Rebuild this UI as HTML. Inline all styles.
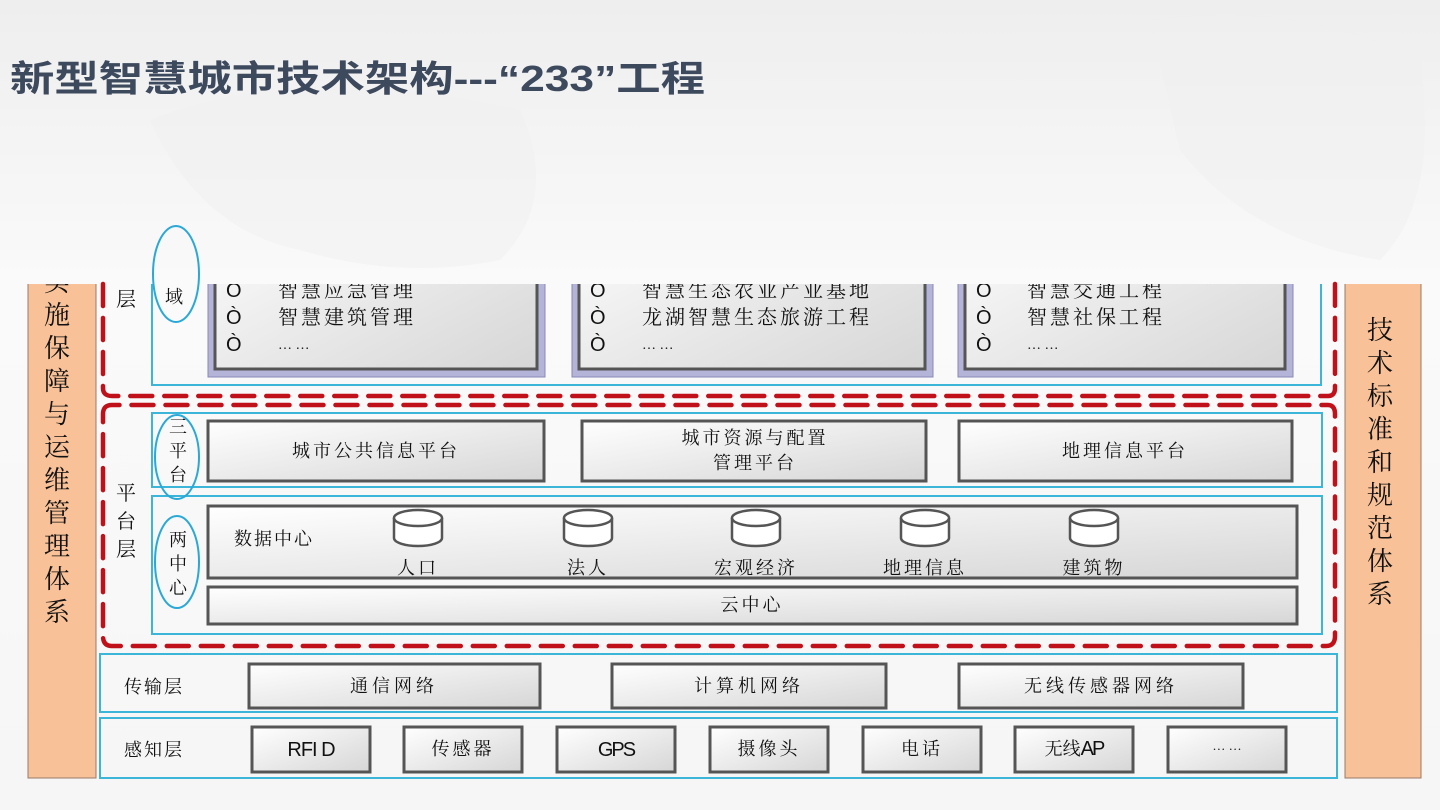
<!DOCTYPE html>
<html><head><meta charset="utf-8"><style>
html,body{margin:0;padding:0;width:1440px;height:810px;overflow:hidden;background:#fff}
svg{display:block}
.k{font-family:"Liberation Serif","Noto Serif CJK SC",serif;fill:#111}
</style></head><body>
<svg width="1440" height="810" viewBox="0 0 1440 810" xmlns="http://www.w3.org/2000/svg">
<defs>
<linearGradient id="bg" x1="0" y1="0" x2="0" y2="1"><stop offset="0" stop-color="#eeeeee"/><stop offset="0.35" stop-color="#fafafa"/><stop offset="1" stop-color="#f6f6f6"/></linearGradient>
<linearGradient id="bx" x1="0" y1="0" x2="1" y2="1"><stop offset="0" stop-color="#ffffff"/><stop offset="1" stop-color="#d6d6d6"/></linearGradient>
<clipPath id="cp"><rect x="0" y="284" width="1440" height="526"/></clipPath>
</defs>
<rect width="1440" height="810" fill="url(#bg)"/>
<path d="M150 120 Q300 60 520 110 Q560 200 500 260 Q400 280 300 250 Q200 230 150 120Z" fill="#f0f0f0" opacity="0.5"/>
<path d="M1150 20 Q1300 0 1420 60 Q1440 200 1380 260 Q1250 240 1180 150Z" fill="#f0f0f0" opacity="0.5"/>
<text x="10" y="91" font-family="Liberation Sans,'Noto Sans CJK SC',sans-serif" font-weight="bold" font-size="36" fill="#3d4a5e" textLength="695" lengthAdjust="spacingAndGlyphs">新型智慧城市技术架构---“233”工程</text>

<g clip-path="url(#cp)">
<rect x="28" y="200" width="68" height="578" fill="#f8c197" stroke="#9a7a6a" stroke-width="1"/>
<rect x="1345" y="200" width="76" height="578" fill="#f8c197" stroke="#9a7a6a" stroke-width="1"/>
<g class="k" font-size="26" text-anchor="middle">
<text x="57" y="291">实</text><text x="57" y="324">施</text><text x="57" y="357">保</text><text x="57" y="390">障</text><text x="57" y="423">与</text><text x="57" y="456">运</text><text x="57" y="489">维</text><text x="57" y="522">管</text><text x="57" y="555">理</text><text x="57" y="588">体</text><text x="57" y="621">系</text>
<text x="1380" y="339">技</text><text x="1380" y="372">术</text><text x="1380" y="405">标</text><text x="1380" y="438">准</text><text x="1380" y="471">和</text><text x="1380" y="504">规</text><text x="1380" y="537">范</text><text x="1380" y="570">体</text><text x="1380" y="603">系</text>
</g>
<rect x="152" y="200" width="1169" height="185" fill="none" stroke="#3cb6d8" stroke-width="2"/>
<text class="k" x="116" y="306" font-size="20">层</text>
<g>
<rect x="208" y="200" width="337" height="177" fill="#b4b4d8" stroke="#8888b8"/>
<rect x="215" y="200" width="322" height="169" fill="url(#bx)" stroke="#555" stroke-width="3"/>
<rect x="572" y="200" width="361" height="177" fill="#b4b4d8" stroke="#8888b8"/>
<rect x="579" y="200" width="346" height="169" fill="url(#bx)" stroke="#555" stroke-width="3"/>
<rect x="958" y="200" width="335" height="177" fill="#b4b4d8" stroke="#8888b8"/>
<rect x="965" y="200" width="320" height="169" fill="url(#bx)" stroke="#555" stroke-width="3"/>
</g>
<g class="k" font-size="20">
<text x="226" y="297" font-family="Liberation Sans,sans-serif">O</text><text x="226" y="324" font-family="Liberation Sans,sans-serif">Ò</text><text x="226" y="351" font-family="Liberation Sans,sans-serif">Ò</text>
<text x="278" y="297" letter-spacing="3">智慧应急管理</text><text x="278" y="324" letter-spacing="3">智慧建筑管理</text><text x="278" y="349" font-size="14">… …</text>
<text x="590" y="297" font-family="Liberation Sans,sans-serif">O</text><text x="590" y="324" font-family="Liberation Sans,sans-serif">Ò</text><text x="590" y="351" font-family="Liberation Sans,sans-serif">Ò</text>
<text x="642" y="297" letter-spacing="3">智慧生态农业产业基地</text><text x="642" y="324" letter-spacing="3">龙湖智慧生态旅游工程</text><text x="642" y="349" font-size="14">… …</text>
<text x="976" y="297" font-family="Liberation Sans,sans-serif">O</text><text x="976" y="324" font-family="Liberation Sans,sans-serif">Ò</text><text x="976" y="351" font-family="Liberation Sans,sans-serif">Ò</text>
<text x="1027" y="297" letter-spacing="3">智慧交通工程</text><text x="1027" y="324" letter-spacing="3">智慧社保工程</text><text x="1027" y="349" font-size="14">… …</text>
</g>
</g>
<ellipse cx="176" cy="274" rx="23" ry="48" fill="none" stroke="#2aa8d8" stroke-width="2"/>
<text class="k" x="165" y="303" font-size="18">域</text>

<g fill="none" stroke="#c0101a" stroke-width="4.5" stroke-dasharray="22 12" stroke-linecap="round">
<path d="M103 284 V388 Q103 396 112 396 H1328 Q1335 396 1335 388 V284"/>
<path d="M103 414 Q103 405 112 405 H1328 Q1335 405 1335 414 V636 Q1335 646 1326 646 H112 Q103 646 103 636 Z"/>
</g>

<text class="k" x="116" y="500" font-size="20">平</text><text class="k" x="116" y="528" font-size="20">台</text><text class="k" x="116" y="556" font-size="20">层</text>
<rect x="152" y="413" width="1170" height="74" fill="none" stroke="#3cb6d8" stroke-width="2"/>
<rect x="152" y="496" width="1170" height="138" fill="none" stroke="#3cb6d8" stroke-width="2"/>
<rect x="208" y="421" width="336" height="60" fill="url(#bx)" stroke="#555" stroke-width="3"/>
<rect x="582" y="421" width="344" height="60" fill="url(#bx)" stroke="#555" stroke-width="3"/>
<rect x="959" y="421" width="333" height="60" fill="url(#bx)" stroke="#555" stroke-width="3"/>
<rect x="208" y="506" width="1089" height="72" fill="url(#bx)" stroke="#555" stroke-width="3"/>
<rect x="208" y="587" width="1089" height="37" fill="url(#bx)" stroke="#555" stroke-width="3"/>
<ellipse cx="177" cy="457" rx="22" ry="42" fill="none" stroke="#2aa8d8" stroke-width="2"/>
<ellipse cx="177" cy="562" rx="22" ry="46" fill="none" stroke="#2aa8d8" stroke-width="2"/>
<g class="k" font-size="18" text-anchor="middle">
<text x="178" y="433">三</text><text x="178" y="457">平</text><text x="178" y="481">台</text>
<text x="178" y="546">两</text><text x="178" y="570">中</text><text x="178" y="594">心</text>
<text x="376" y="457" letter-spacing="3">城市公共信息平台</text>
<text x="755" y="444" letter-spacing="3">城市资源与配置</text><text x="755" y="469" letter-spacing="3">管理平台</text>
<text x="1125" y="457" letter-spacing="3">地理信息平台</text>
<text x="274" y="545" letter-spacing="2">数据中心</text>
<text x="418" y="574" letter-spacing="3">人口</text><text x="588" y="574" letter-spacing="3">法人</text><text x="756" y="574" letter-spacing="3">宏观经济</text><text x="925" y="574" letter-spacing="3">地理信息</text><text x="1094" y="574" letter-spacing="3">建筑物</text>
<text x="752" y="611" letter-spacing="3">云中心</text>
</g>
<g fill="#fff" stroke="#555" stroke-width="2.5">
<g transform="translate(418,0)"><path d="M-24 518 V538 A24 8 0 0 0 24 538 V518"/><ellipse cx="0" cy="518" rx="24" ry="8"/></g>
<g transform="translate(588,0)"><path d="M-24 518 V538 A24 8 0 0 0 24 538 V518"/><ellipse cx="0" cy="518" rx="24" ry="8"/></g>
<g transform="translate(756,0)"><path d="M-24 518 V538 A24 8 0 0 0 24 538 V518"/><ellipse cx="0" cy="518" rx="24" ry="8"/></g>
<g transform="translate(925,0)"><path d="M-24 518 V538 A24 8 0 0 0 24 538 V518"/><ellipse cx="0" cy="518" rx="24" ry="8"/></g>
<g transform="translate(1094,0)"><path d="M-24 518 V538 A24 8 0 0 0 24 538 V518"/><ellipse cx="0" cy="518" rx="24" ry="8"/></g>
</g>

<rect x="100" y="654" width="1237" height="58" fill="none" stroke="#3cb6d8" stroke-width="2"/>
<rect x="100" y="718" width="1237" height="60" fill="none" stroke="#3cb6d8" stroke-width="2"/>
<rect x="249" y="664" width="291" height="44" fill="url(#bx)" stroke="#555" stroke-width="3"/>
<rect x="612" y="664" width="274" height="44" fill="url(#bx)" stroke="#555" stroke-width="3"/>
<rect x="959" y="664" width="284" height="44" fill="url(#bx)" stroke="#555" stroke-width="3"/>
<g fill="url(#bx)" stroke="#555" stroke-width="3">
<rect x="252" y="727" width="118" height="45"/><rect x="404" y="727" width="118" height="45"/><rect x="557" y="727" width="118" height="45"/><rect x="710" y="727" width="118" height="45"/><rect x="863" y="727" width="118" height="45"/><rect x="1015" y="727" width="118" height="45"/><rect x="1168" y="727" width="118" height="45"/>
</g>
<g class="k" font-size="18" text-anchor="middle">
<text x="154" y="693" letter-spacing="2">传输层</text>
<text x="154" y="756" letter-spacing="2">感知层</text>
<text x="394" y="692" letter-spacing="4">通信网络</text>
<text x="749" y="692" letter-spacing="4">计算机网络</text>
<text x="1101" y="692" letter-spacing="4">无线传感器网络</text>
<text x="311" y="756" font-family="Liberation Sans,sans-serif" font-size="20" letter-spacing="-1">RFI D</text>
<text x="463" y="755" letter-spacing="3">传感器</text>
<text x="616" y="756" font-family="Liberation Sans,sans-serif" font-size="20" letter-spacing="-2">GPS</text>
<text x="769" y="755" letter-spacing="3">摄像头</text>
<text x="922" y="755" letter-spacing="3">电话</text>
<text x="1074" y="755">无线<tspan font-family="Liberation Sans,sans-serif" font-size="20" letter-spacing="-2">AP</tspan></text>
<text x="1227" y="750" font-size="13">… …</text>
</g>
</svg>
</body></html>
